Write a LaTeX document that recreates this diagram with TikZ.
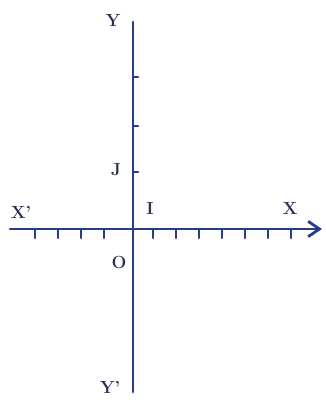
\documentclass[tikz,border=0pt]{standalone}
\usetikzlibrary{arrows.meta}
\definecolor{mautruc}{RGB}{40,60,135}
\definecolor{mauchu}{RGB}{40,50,85}
\begin{document}
\begin{tikzpicture}[x=0.3mm, y=-0.3mm, >={Straight Barb[length=3.4mm,width=4.6mm]}, line cap=round, line join=round,
	truc/.style={mautruc, line width=2.4pt},
	vach/.style={mautruc, line width=2.2pt},
	nhan/.style={mauchu, font=\fontsize{15}{15}\selectfont\bfseries, inner sep=1pt}]
			
			\useasboundingbox (0,0) rectangle (325,410);
			
			% Các điểm
			\coordinate (O) at (133,229);
			\coordinate (Xt) at (10,229);
			\coordinate (Xp) at (322,229);
			\coordinate (Yt) at (133,392);
			\coordinate (Yp) at (133,22);
			
			% Trục tọa độ
			\draw[truc] (Xt) -- (O);
			\draw[truc, ->] (O) -- (Xp);
			\draw[truc] (Yt) -- (Yp);
			
			% Vạch chia trên trục Ox
			\foreach \x in {35,58,81,104,153,176,199,222,245,268,291}
			\draw[vach] (\x,229) -- ++(0,9);
			
			% Vạch chia trên trục Oy
			\foreach \y in {77,126,172}
			\draw[vach] (133,\y) -- ++(5,0);
			
			% Nhãn
			\node[nhan] (nY) at (113,20) {Y};
			\node[nhan] (nYp) at (110,387) {Y'};
			\node[nhan] (nX) at (290,208) {X};
			\node[nhan] (nXp) at (21,212) {X'};
			\node[nhan] (nI) at (150,208) {I};
			\node[nhan] (nJ) at (116,170) {J};
			\node[nhan] (nO) at (119,262) {O};
			
\end{tikzpicture}
\end{document}
